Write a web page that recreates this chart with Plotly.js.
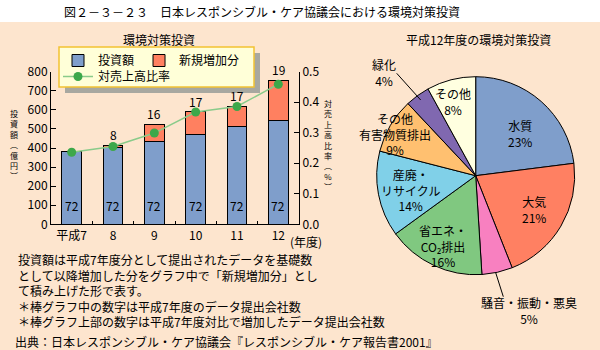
<!DOCTYPE html>
<html>
<head>
<meta charset="utf-8">
<script src="https://cdn.plot.ly/plotly-3.0.1.min.js"></script>
<style>html,body{margin:0;padding:0;background:#fde5ce;}#chart{width:600px;height:350px;}</style>
</head>
<body>
<div id="chart"></div>
<script>
// ---- data ----
const years = ['平成7', '8', '9', '10', '11', '12'];
const investment = [384, 404, 435, 472, 514, 542];       // 投資額 (億円)
const newIncrease = [null, 10, 89, 117, 104, 213];       // 新規増加分 (億円)
const salesRatio = [0.236, 0.255, 0.299, 0.368, 0.386, 0.459]; // 対売上高比率 (%)
const baseCompanies = ['72', '72', '72', '72', '72', '72'];
const addedCompanies = ['', '8', '16', '17', '17', '19'];

const pieLabels = ['水質', '大気', '騒音・振動・悪臭', '省エネ・CO2排出', '産廃・リサイクル', 'その他有害物質排出', '緑化', 'その他'];
const pieLabelText = ['水質', '大気', '騒音・振動・悪臭', '省エネ・<br>CO₂排出', '産廃・<br>リサイクル', 'その他<br>有害物質排出', '緑化', 'その他'];
const pieValues = [23, 21, 5, 16, 14, 9, 4, 8];

const notes = [
  '投資額は平成7年度分として提出されたデータを基礎数',
  'として以降増加した分をグラフ中で「新規増加分」とし',
  'て積み上げた形で表す。',
  '＊棒グラフ中の数字は平成7年度のデータ提出会社数',
  '＊棒グラフ上部の数字は平成7年度対比で増加したデータ提出会社数'
];
const source = '出典：日本レスポンシブル・ケア協議会『レスポンシブル・ケア報告書2001』';
const yTitleLeft = '投資額︵億円︶';
const yTitleRight = '対売上高比率︵%︶';

// ---- styling / helpers ----
const W = 600, H = 350;
const FONT = '"Noto Sans CJK JP", "Noto Sans", sans-serif';
const px = x => x / W;
const py = y => 1 - y / H;
const BG = '#fde5ce';
const pieColors = ['#7f9ecb', '#ff8062', '#f880c0', '#80c880', '#80d0e8', '#ffc070', '#8068b0', '#ffffe0'];

const traces = [
  {type: 'bar', x: years, y: investment, name: '投資額',
   marker: {color: '#7f9ecb', line: {color: '#000', width: 1}}, legend: 'legend', hoverinfo: 'skip'},
  {type: 'bar', x: years, y: newIncrease, name: '新規増加分',
   marker: {color: '#ff8060', line: {color: '#000', width: 1}}, legend: 'legend', hoverinfo: 'skip'},
  {type: 'scatter', mode: 'lines+markers', x: years, y: salesRatio, yaxis: 'y2', name: '対売上高比率',
   line: {color: '#8acb8a', width: 1.5}, marker: {color: '#3da84a', size: 9}, legend: 'legend2', hoverinfo: 'skip'},
  {type: 'pie', labels: pieLabels, values: pieValues, marker: {colors: pieColors, line: {color: '#000', width: 1}},
   sort: false, direction: 'clockwise', rotation: 0, textinfo: 'none', showlegend: false, hoverinfo: 'skip',
   domain: {x: [px(376.7), px(574.7)], y: [py(274.7), py(76.7)]}}
];

const annotations = [];
function ann(text, x, y, opts) {
  annotations.push(Object.assign({text: text, x: px(x), y: py(y), xref: 'paper', yref: 'paper', showarrow: false,
    xanchor: 'center', yanchor: 'middle', font: {family: FONT, size: 12, color: '#000'}}, opts || {}));
}
// titles
ann('図２－３－２３　日本レスポンシブル・ケア協議会における環境対策投資', 262, 11);
ann('環境対策投資', 159, 39);
ann('平成12年度の環境対策投資', 478, 39);
// bar value labels (data coords, category index)
years.forEach((yr, i) => {
  annotations.push({text: baseCompanies[i], x: i, y: 96, xref: 'x', yref: 'y', showarrow: false,
    font: {family: FONT, size: 12, color: '#000'}, yanchor: 'middle'});
  const total = investment[i] + (newIncrease[i] || 0);
  if (addedCompanies[i]) annotations.push({text: addedCompanies[i], x: i, y: total, xref: 'x', yref: 'y',
    showarrow: false, yanchor: 'bottom', font: {family: FONT, size: 12, color: '#000'}});
});
ann('(年度)', 288, 241, {xanchor: 'left'});
// vertical axis titles (stacked characters)
ann(Array.from(yTitleLeft).join('<br>'), 14, 144, {font: {family: FONT, size: 8, color: '#000'}});
ann(Array.from(yTitleRight).join('<br>'), 328, 145, {font: {family: FONT, size: 8, color: '#000'}});
// pie labels
const pieLabelPos = [[520, 133.7], [534, 209.5], [529, 310.3], [443, 246], [410, 189.5], [395, 134], [384.3, 72], [453.3, 101]];
pieLabelText.forEach((t, i) => ann(t + '<br>' + pieValues[i] + '%', pieLabelPos[i][0], pieLabelPos[i][1]));
// notes
ann(notes.join('<br>'), 16, 290, {xanchor: 'left', align: 'left'});
ann(source, 13, 341, {xanchor: 'left'});

const shapes = [
  {type: 'rect', xref: 'paper', yref: 'paper', x0: 0, x1: 1, y0: py(22), y1: 1, fillcolor: '#ffffff', line: {width: 0}, layer: 'below'},
  {type: 'rect', xref: 'paper', yref: 'paper', x0: px(65), x1: px(260), y0: py(93), y1: py(53), fillcolor: '#a8a8a0', line: {width: 0}, layer: 'above'},
  {type: 'rect', xref: 'paper', yref: 'paper', x0: px(59), x1: px(254), y0: py(87), y1: py(47), fillcolor: '#ffffd8', line: {color: '#f2c232', width: 1.5}, layer: 'above'},
  {type: 'line', xref: 'paper', yref: 'paper', x0: px(396.7), y0: py(73.3), x1: px(420.7), y1: py(100), line: {color: '#000', width: 1}},
  {type: 'line', xref: 'paper', yref: 'paper', x0: px(495.7), y0: py(272.7), x1: px(503.3), y1: py(296.7), line: {color: '#000', width: 1}}
];

const tickFont = {family: FONT, size: 12, color: '#000'};
const layout = {
  width: W, height: H,
  margin: {l: 0, r: 0, t: 0, b: 0},
  paper_bgcolor: BG, plot_bgcolor: 'rgba(0,0,0,0)',
  barmode: 'stack', bargap: 0.53,
  showlegend: true,
  font: {family: FONT, size: 12, color: '#000'},
  xaxis: {domain: [px(51), px(299)], type: 'category', range: [-0.5, 5.5], tickvals: years, ticktext: years,
    showline: true, linecolor: '#000', linewidth: 1, ticks: 'inside', tickson: 'boundaries', ticklen: 3, tickcolor: '#000',
    showgrid: false, zeroline: false, tickfont: tickFont, fixedrange: true},
  yaxis: {domain: [py(224.3), py(71.7)], range: [0, 800], dtick: 100, showline: true, linecolor: '#000', linewidth: 1,
    ticks: 'inside', ticklen: 5, tickcolor: '#000', showgrid: false, zeroline: false, tickfont: tickFont, fixedrange: true},
  yaxis2: {overlaying: 'y', side: 'right', anchor: 'x', range: [0, 0.5], dtick: 0.1, tickformat: '.1f', showline: true,
    linecolor: '#000', linewidth: 1, ticks: 'inside', ticklen: 5, tickcolor: '#000', showgrid: false, zeroline: false,
    tickfont: tickFont, fixedrange: true},
  legend: {orientation: 'h', x: px(58), y: py(46), xanchor: 'left', yanchor: 'top', bgcolor: 'rgba(0,0,0,0)',
    borderwidth: 0, font: {family: FONT, size: 12, color: '#000'}, traceorder: 'normal'},
  legend2: {orientation: 'h', x: px(58), y: py(62), xanchor: 'left', yanchor: 'top', bgcolor: 'rgba(0,0,0,0)',
    borderwidth: 0, font: {family: FONT, size: 12, color: '#000'}},
  annotations: annotations,
  shapes: shapes
};

Plotly.newPlot('chart', traces, layout, {displayModeBar: false, staticPlot: true});
</script>
</body>
</html>
